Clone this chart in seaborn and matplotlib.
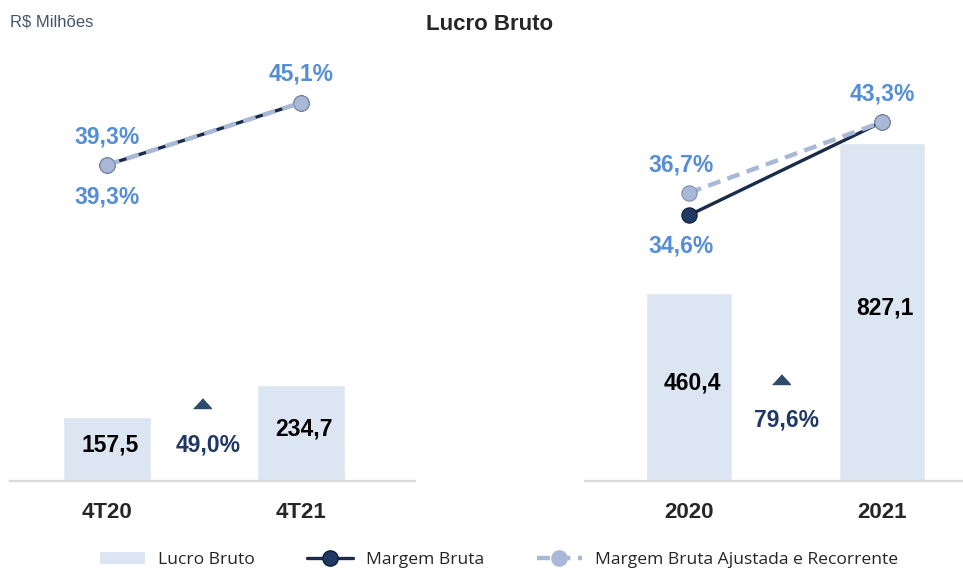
import numpy as np
import matplotlib.pyplot as plt
import seaborn as sns
from matplotlib.patches import Patch
from matplotlib.lines import Line2D

# data
quarters = ["4T20", "4T21"]
years = ["2020", "2021"]
lucro_q = [157.5, 234.7]
lucro_y = [460.4, 827.1]
margem_q = [39.3, 45.1]
margem_y = [34.6, 43.3]
ajust_q = [39.3, 45.1]
ajust_y = [36.7, 43.3]
growth_labels = ["49,0%", "79,6%"]

# colours
bar_c = "#DCE6F2"
dark_c = "#1B2B4B"
dark_fill = "#1F3864"
light_c = "#A9B8D6"
pct_c = "#558ED5"
arrow_c = "#2E4A6E"

sns.set_style("white")
plt.rcParams["font.family"] = ["Liberation Sans", "DejaVu Sans"]

fig = plt.figure(figsize=(9.63, 5.72), dpi=100)

W, H = 963, 572
bottom = 1 - 481 / H
top = 1 - 60 / H
ax1 = fig.add_axes([10 / W, bottom, 405 / W, top - bottom])
ax2 = fig.add_axes([585 / W, bottom, 378 / W, top - bottom])

FS = 16.5


def fmt(v, pct=False):
    s = f"{v:.1f}".replace(".", ",")
    return s + "%" if pct else s


def panel(ax, cats, lucro, margem, ajust, growth_txt, growth_pos, xlim, labels):
    sns.barplot(x=cats, y=lucro, ax=ax, color=bar_c, saturation=1, width=0.45)
    ax.set_ylim(0, 1029)
    ax.set_xlim(*xlim)
    for i, v in enumerate(lucro):
        ax.text(i + 0.015, v / 2 + 10, fmt(v), ha="center", va="center",
                fontsize=FS, fontweight="bold", color="black")
    # growth marker
    tri = [(-1, 0), (1, 0), (0, 1.1)]
    gx, gy_tri, gy_txt = growth_pos
    ax.plot([gx], [gy_tri], marker=tri, markersize=14, color=arrow_c, linestyle="none")
    ax.text(gx + 0.03, gy_txt, growth_txt, ha="center", va="center",
            fontsize=FS, fontweight="bold", color=dark_fill)
    ax.set_yticks([])
    ax.set_ylabel("")
    ax.set_xlabel("")
    for s in ["left", "right", "top"]:
        ax.spines[s].set_visible(False)
    ax.spines["bottom"].set_color("#D9D9D9")
    ax.spines["bottom"].set_linewidth(1.6)
    ax.tick_params(axis="x", length=0, pad=15)
    for t in ax.get_xticklabels():
        t.set_fontsize(16)
        t.set_fontweight("bold")

    tw = ax.twinx()
    tw.set_ylim(9.77, 49.1)
    sns.lineplot(x=[0, 1], y=margem, ax=tw, color=dark_c, linewidth=2.4,
                 marker="o", markersize=11, markerfacecolor=dark_fill,
                 markeredgecolor="#111a2e", markeredgewidth=0.8)
    sns.lineplot(x=[0, 1], y=ajust, ax=tw, color=light_c, linewidth=3.2,
                 linestyle=(0, (2.9, 1.7)), marker="o", markersize=11,
                 markerfacecolor=light_c, markeredgecolor="#7F8FA9",
                 markeredgewidth=0.8)
    tw.set_xlim(*xlim)
    tw.set_yticks([])
    tw.set_ylabel("")
    for s in tw.spines.values():
        s.set_visible(False)
    for (i, yv, dx, dy) in labels:
        tw.annotate(fmt(yv, True), (i, yv), xytext=(dx, dy),
                    textcoords="offset points", ha="center", va="center",
                    fontsize=FS, fontweight="bold", color=pct_c)


panel(ax1, quarters, lucro_q, margem_q, ajust_q, growth_labels[0],
      (0.49, 178, 88), (-0.5, 1.588),
      [(0, ajust_q[0], 0, 20), (0, margem_q[0], 0, -23), (1, ajust_q[1], 0, 21)])
panel(ax2, years, lucro_y, margem_y, ajust_y, growth_labels[1],
      (0.477, 237, 149), (-0.539, 1.42),
      [(0, ajust_y[0], -6, 20), (0, margem_y[0], -6, -22), (1, ajust_y[1], 0, 20)])

fig.text(10 / W, 1 - 22 / H, "R$ Milhões", fontsize=12, color="#44546A",
         ha="left", va="center")
fig.text(490 / W, 1 - 24 / H, "Lucro Bruto", fontsize=16, fontweight="bold",
         ha="center", va="center")

handles = [
    Patch(facecolor=bar_c, edgecolor="none", label="Lucro Bruto"),
    Line2D([0], [0], color=dark_c, lw=2.4, marker="o", markersize=11,
           markerfacecolor=dark_fill, markeredgecolor="#111a2e", label="Margem Bruta"),
    Line2D([0], [0], color=light_c, lw=3.2, linestyle=(0, (2.9, 1.7)), marker="o",
           markersize=11, markerfacecolor=light_c, markeredgecolor=light_c,
           label="Margem Bruta Ajustada e Recorrente"),
]
fig.legend(handles=handles, loc="center", bbox_to_anchor=(499 / W, 12 / H), ncol=3,
           frameon=False, handlelength=2.6, columnspacing=3.0, handletextpad=0.75,
           borderpad=0.1, prop={"family": "Open Sans", "size": 12.6})

fig.savefig("out.png", dpi=100)
